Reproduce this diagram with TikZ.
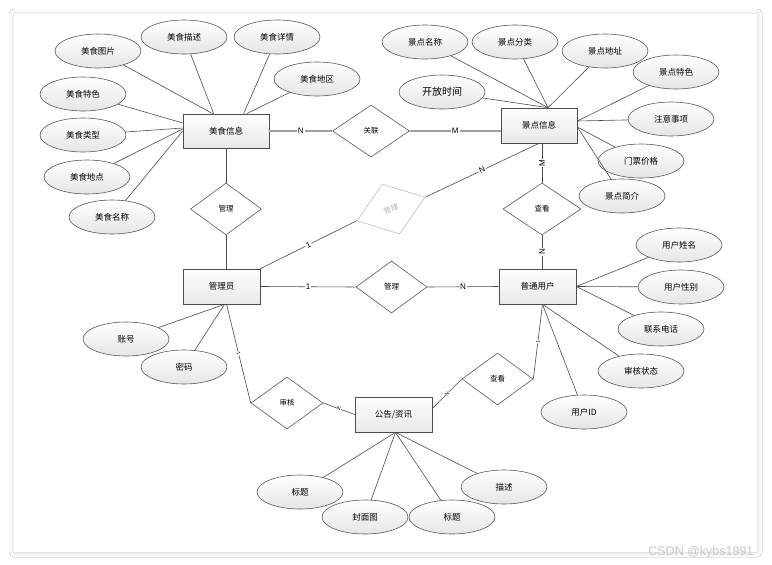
\documentclass[tikz,border=0pt]{standalone}
\usepackage{fontspec}
\setmainfont{Noto Sans CJK SC}
\newfontfamily\lat{Liberation Sans}
\usetikzlibrary{shapes.geometric,shadows.blur,calc}
\begin{document}
\begin{tikzpicture}[x=1pt,y=-1pt,
 ent/.style={rectangle,draw=black!70,line width=0.7pt,top color=white,bottom color=gray!18,minimum width=77pt,minimum height=35pt,inner sep=0pt,font=\fontsize{8.5}{10}\selectfont},
 attr/.style={ellipse,draw=black!65,line width=0.6pt,top color=white,bottom color=gray!20,minimum width=86pt,minimum height=34pt,inner sep=0pt,font=\fontsize{8.5}{10}\selectfont},
 rel/.style={diamond,draw=black!65,line width=0.6pt,fill=white,minimum width=72pt,minimum height=52pt,inner sep=0pt,font=\fontsize{7.5}{9}\selectfont},
 ln/.style={draw=black!70,line width=0.6pt},
 gln/.style={draw=gray!75,line width=1.1pt},
 lab/.style={fill=white,inner sep=1pt,font=\lat\fontsize{8}{9}\selectfont},
 tick/.style={fill=white,inner sep=0.3pt,font=\lat\fontsize{5}{5}\selectfont,sloped}
]
\useasboundingbox (0,0) rectangle (772,565);
\fill[white] (0,0) rectangle (772,565);
\fill[white,blur shadow={shadow xshift=0pt,shadow yshift=0pt,shadow blur radius=5pt,shadow opacity=18}] (14,14) rectangle (757,552);

% entities
\node[ent,minimum width=86pt,minimum height=34pt] (m) at (226,131) {美食信息};
\node[ent,minimum width=76pt] (j) at (539,125.5) {景点信息};
\node[ent] (ad) at (221.5,286.5) {管理员};
\node[ent] (pu) at (537.5,286.5) {普通用户};
\node[ent] (gg) at (393.5,414.5) {公告/资讯};

% relationships
\node[rel,minimum width=77pt] (gl) at (371,131) {关联};
\node[rel,minimum width=71pt] (mg) at (226,209) {管理};
\node[rel,draw=gray!50,text=gray!60,rotate=19,minimum width=72pt,minimum height=53pt] (gm) at (391,209) {管理};
\node[rel,minimum width=78pt] (ck1) at (542,209) {查看};
\node[rel,minimum width=71pt] (gl2) at (391.5,287) {管理};
\node[rel] (sh) at (287,403) {审核};
\node[rel,minimum width=71pt] (ck2) at (497.5,379) {查看};

% food attributes
\node[attr] (mtp) at (98,51) {美食图片};
\node[attr] (mms) at (184,37) {美食描述};
\node[attr] (mxq) at (277,37) {美食详情};
\node[attr] (mdq) at (317,79) {美食地区};
\node[attr] (mts) at (83,94) {美食特色};
\node[attr] (mlx) at (83,135) {美食类型};
\node[attr] (mdd) at (87,177) {美食地点};
\node[attr] (mmc) at (112,217) {美食名称};

% scenic attributes
\node[attr] (jmc) at (425,42) {景点名称};
\node[attr] (jfl) at (515,42) {景点分类};
\node[attr] (jdz) at (605,51) {景点地址};
\node[attr] (jts) at (676,72) {景点特色};
\node[attr] (jzy) at (671,119) {注意事项};
\node[attr] (jmp) at (641,161) {门票价格};
\node[attr] (jjj) at (622,196) {景点简介};
\node[attr,font=\fontsize{10}{12}\selectfont] (jkf) at (442,92) {开放时间};

% user attributes
\node[attr] (uxm) at (679,245) {用户姓名};
\node[attr] (uxb) at (681,287) {用户性别};
\node[attr] (udh) at (661,329) {联系电话};
\node[attr] (uzt) at (641,371) {审核状态};
\node[attr] (uid) at (584,412) {用户ID};

% admin attributes
\node[attr] (azh) at (126,339) {账号};
\node[attr] (amm) at (184,367) {密码};

% notice attributes
\node[attr] (gbt1) at (300,492) {标题};
\node[attr] (gfm) at (365,517) {封面图};
\node[attr] (gbt2) at (452,517) {标题};
\node[attr] (gms) at (504,487) {描述};

% attribute lines
\draw[ln] (mtp) -- ($(m.north west)+(30,0)$);
\draw[ln] (mms) -- ($(m.north west)+(31,0)$);
\draw[ln] (mxq) -- ($(m.north west)+(61,0)$);
\draw[ln] (mdq) -- ($(m.north west)+(64,0)$);
\draw[ln] (mts) -- ($(m.west)+(0,-8)$);
\draw[ln] (mlx) -- ($(m.west)+(0,-3)$);
\draw[ln] (mdd) -- ($(m.west)+(0,-2)$);
\draw[ln] (mmc) -- (m.west);

\draw[ln] (jmc) -- ($(j.north)+(9,0)$);
\draw[ln] (jfl) -- ($(j.north)+(9,0)$);
\draw[ln] (jdz) -- ($(j.north)+(9,0)$);
\draw[ln] (jkf) -- ($(j.north)+(9,0)$);
\draw[ln] (jts) -- ($(j.east)+(0,-4.5)$);
\draw[ln] (jzy) -- ($(j.east)+(0,-4.5)$);
\draw[ln] (jmp) -- ($(j.east)+(0,1.5)$);
\draw[ln] (jjj) -- ($(j.east)+(0,1.5)$);

\draw[ln] (uxm) -- (pu.east);
\draw[ln] (uxb) -- (pu.east);
\draw[ln] (udh) -- (pu.east);
\draw[ln] (uzt) -- ($(pu.south)+(5,0)$);
\draw[ln] (uid) -- ($(pu.south)+(5,0)$);

\draw[ln] (azh) -- ($(ad.south)+(3,0)$);
\draw[ln] (amm) -- ($(ad.south)+(3,0)$);

\draw[ln] (gbt1) -- ($(gg.south)+(2,0)$);
\draw[ln] (gfm) -- ($(gg.south)+(2,0)$);
\draw[ln] (gbt2) -- ($(gg.south)+(2,0)$);
\draw[ln] (gms) -- ($(gg.south)+(2,0)$);

% relationship connectors
\draw[gln] (m.east) -- node[lab]{N} (gl.west);
\draw[gln] (gl.east) -- node[lab]{M} ($(j.west)+(0,5.5)$);
\draw[ln] (ck1.north) -- node[lab,rotate=90]{M} (ck1.north |- j.south);
\draw[ln] (ck1.south) -- node[lab,rotate=90]{N} (ck1.south |- pu.north);
\draw[ln] (ad.east) -- node[lab]{1} (gl2.west);
\draw[ln] (gl2.east) -- node[lab]{N} (pu.west);
\draw[ln] (mg.north) -- (mg.north |- m.south);
\draw[ln] (mg.south) -- (mg.south |- ad.north);
\draw[ln] (ad.north east) -- node[lab,sloped]{1} (gm.west);
\draw[ln] (gm.east) -- node[lab,sloped]{N} (j.south);
\draw[ln] ($(ad.south)+(5,0)$) -- node[tick]{1} (sh.west);
\draw[ln] (sh.east) -- node[tick]{N} (gg.west);
\draw[ln] (ck2.west) -- node[tick]{N} ($(gg.east)+(0,-6)$);
\draw[ln] (ck2.east) -- node[tick]{1} ($(pu.south)+(5,0)$);

\node[anchor=east,text=gray!45,font=\lat\fontsize{12.5}{13}\selectfont] (wm) at (757,552) {CSDN @kybs1991};
\end{tikzpicture}
\end{document}
